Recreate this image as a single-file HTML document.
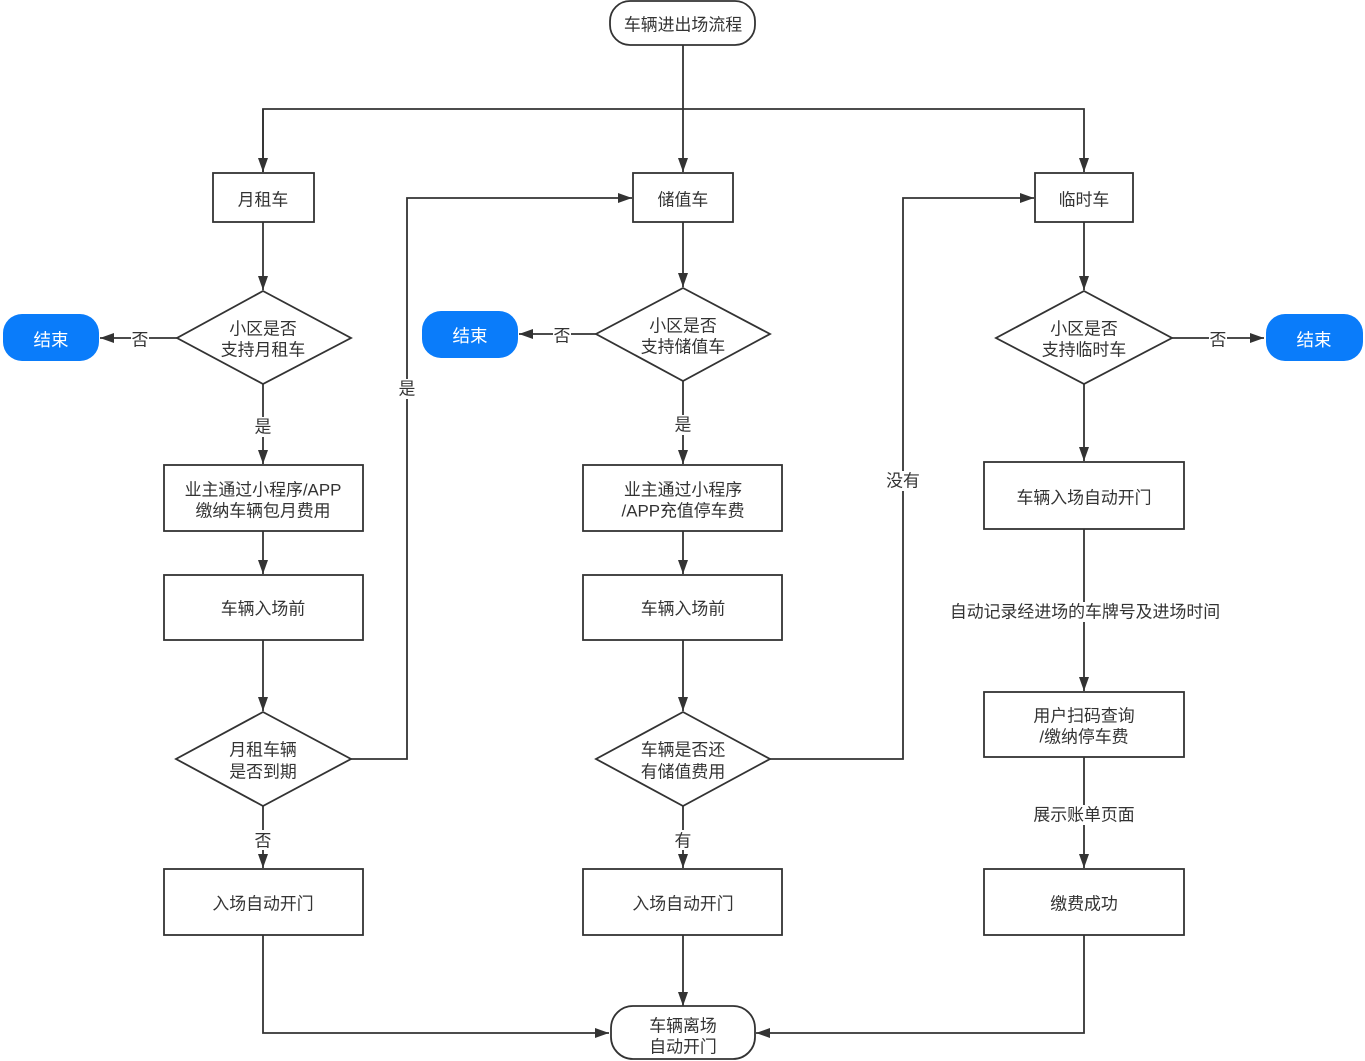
<!DOCTYPE html>
<html>
<head>
<meta charset="utf-8">
<style>
  html, body { margin:0; padding:0; background:#ffffff; }
  body { width:1365px; height:1061px; overflow:hidden; }
  svg { display:block; }
  text { font-family: "Liberation Sans", "Noto Sans CJK SC", sans-serif; font-size:16.9px; fill:#333333; }
  .w { fill:#ffffff; font-size:17.5px; }
</style>
</head>
<body>
<svg width="1365" height="1061" viewBox="0 0 1365 1061" xmlns="http://www.w3.org/2000/svg">
  <defs>
    <marker id="ar" viewBox="0 0 14 10" refX="14" refY="5" markerWidth="14" markerHeight="10" markerUnits="userSpaceOnUse" orient="auto">
      <path d="M0,0 L14,5 L0,10 Z" fill="#333333"/>
    </marker>
  </defs>

  <g fill="none" stroke="#333333" stroke-width="1.8">
    <line x1="683" y1="45" x2="683" y2="172" marker-end="url(#ar)"/>
    <polyline points="263,172 263,109 1084,109 1084,172" marker-end="url(#ar)"/>
    <line x1="263" y1="109" x2="263" y2="172" marker-end="url(#ar)"/>

    <line x1="263" y1="222" x2="263" y2="290" marker-end="url(#ar)"/>
    <line x1="683" y1="222" x2="683" y2="287" marker-end="url(#ar)"/>
    <line x1="1084" y1="222" x2="1084" y2="290" marker-end="url(#ar)"/>

    <line x1="177" y1="338" x2="100" y2="338" marker-end="url(#ar)"/>
    <line x1="596" y1="334" x2="519" y2="334" marker-end="url(#ar)"/>
    <line x1="1172" y1="338" x2="1264" y2="338" marker-end="url(#ar)"/>

    <line x1="263" y1="384" x2="263" y2="464" marker-end="url(#ar)"/>
    <line x1="683" y1="381" x2="683" y2="464" marker-end="url(#ar)"/>
    <line x1="1084" y1="384" x2="1084" y2="461" marker-end="url(#ar)"/>

    <line x1="263" y1="531" x2="263" y2="574" marker-end="url(#ar)"/>
    <line x1="683" y1="531" x2="683" y2="574" marker-end="url(#ar)"/>

    <line x1="263" y1="640" x2="263" y2="711" marker-end="url(#ar)"/>
    <line x1="683" y1="640" x2="683" y2="711" marker-end="url(#ar)"/>

    <line x1="1084" y1="529" x2="1084" y2="691" marker-end="url(#ar)"/>
    <line x1="1084" y1="757" x2="1084" y2="868" marker-end="url(#ar)"/>

    <line x1="263" y1="806" x2="263" y2="868" marker-end="url(#ar)"/>
    <line x1="683" y1="806" x2="683" y2="868" marker-end="url(#ar)"/>

    <line x1="683" y1="935" x2="683" y2="1006" marker-end="url(#ar)"/>
    <polyline points="263,935 263,1033 609,1033" marker-end="url(#ar)"/>
    <polyline points="1084,935 1084,1033 756,1033" marker-end="url(#ar)"/>

    <polyline points="351,759 407,759 407,198 632,198" marker-end="url(#ar)"/>
    <polyline points="770,759 903,759 903,198 1034,198" marker-end="url(#ar)"/>
  </g>

  <g fill="#ffffff" stroke="#333333" stroke-width="1.8">
    <rect x="610" y="1" width="145" height="44" rx="20" ry="20"/>
    <rect x="213" y="173" width="101" height="49"/>
    <rect x="633" y="173" width="100" height="49"/>
    <rect x="1035" y="173" width="98" height="49"/>

    <polygon points="263,291 351,338 263,384 177,338"/>
    <polygon points="683,288 770,334 683,381 596,334"/>
    <polygon points="1084,291 1172,338 1084,384 996,338"/>

    <rect x="164" y="465" width="199" height="66"/>
    <rect x="583" y="465" width="199" height="66"/>
    <rect x="984" y="462" width="200" height="67"/>

    <rect x="164" y="575" width="199" height="65"/>
    <rect x="583" y="575" width="199" height="65"/>

    <polygon points="263,712 351,759 263,806 176,759"/>
    <polygon points="683,712 770,759 683,806 596,759"/>

    <rect x="984" y="692" width="200" height="65"/>

    <rect x="164" y="869" width="199" height="66"/>
    <rect x="583" y="869" width="199" height="66"/>
    <rect x="984" y="869" width="200" height="66"/>

    <rect x="611" y="1006" width="144" height="53" rx="22" ry="22"/>
  </g>

  <g fill="#0a7cfa">
    <rect x="3" y="314" width="96" height="47" rx="19" ry="19"/>
    <rect x="422" y="311" width="96" height="47" rx="19" ry="19"/>
    <rect x="1266" y="314" width="97" height="47" rx="19" ry="19"/>
  </g>

  <g fill="#ffffff">
    <rect x="131" y="328" width="18" height="20"/>
    <rect x="553" y="324" width="18" height="20"/>
    <rect x="1209" y="328" width="18" height="20"/>
    <rect x="254" y="417" width="18" height="20"/>
    <rect x="674" y="415" width="18" height="20"/>
    <rect x="398" y="379" width="18" height="20"/>
    <rect x="885" y="471" width="36" height="20"/>
    <rect x="948" y="602" width="274" height="20"/>
    <rect x="1032" y="805" width="105" height="20"/>
    <rect x="254" y="830" width="18" height="20"/>
    <rect x="674" y="830" width="18" height="20"/>
  </g>

  <g text-anchor="middle" dominant-baseline="central" transform="translate(0,2)">
    <text class="w" x="51" y="338">结束</text>
    <text class="w" x="470" y="334">结束</text>
    <text class="w" x="1314" y="338">结束</text>

    <text x="683" y="23">车辆进出场流程</text>
    <text x="263" y="198">月租车</text>
    <text x="683" y="198">储值车</text>
    <text x="1084" y="198">临时车</text>

    <text x="263" y="327">小区是否</text>
    <text x="263" y="348">支持月租车</text>
    <text x="683" y="324">小区是否</text>
    <text x="683" y="345">支持储值车</text>
    <text x="1084" y="327">小区是否</text>
    <text x="1084" y="348">支持临时车</text>

    <text x="140" y="338">否</text>
    <text x="562" y="334">否</text>
    <text x="1218" y="338">否</text>
    <text x="263" y="425">是</text>
    <text x="683" y="423">是</text>
    <text x="407" y="387">是</text>
    <text x="903" y="479">没有</text>

    <text x="263" y="488">业主通过小程序/APP</text>
    <text x="263" y="509">缴纳车辆包月费用</text>
    <text x="683" y="488">业主通过小程序</text>
    <text x="683" y="509">/APP充值停车费</text>
    <text x="1084" y="496">车辆入场自动开门</text>

    <text x="263" y="607">车辆入场前</text>
    <text x="683" y="607">车辆入场前</text>

    <text x="1085" y="610">自动记录经进场的车牌号及进场时间</text>

    <text x="263" y="748">月租车辆</text>
    <text x="263" y="770">是否到期</text>
    <text x="683" y="748">车辆是否还</text>
    <text x="683" y="770">有储值费用</text>

    <text x="1084" y="714">用户扫码查询</text>
    <text x="1084" y="735">/缴纳停车费</text>
    <text x="1084" y="813">展示账单页面</text>

    <text x="263" y="839">否</text>
    <text x="683" y="839">有</text>

    <text x="263" y="902">入场自动开门</text>
    <text x="683" y="902">入场自动开门</text>
    <text x="1084" y="902">缴费成功</text>

    <text x="683" y="1024">车辆离场</text>
    <text x="683" y="1045">自动开门</text>
  </g>
</svg>
</body>
</html>
